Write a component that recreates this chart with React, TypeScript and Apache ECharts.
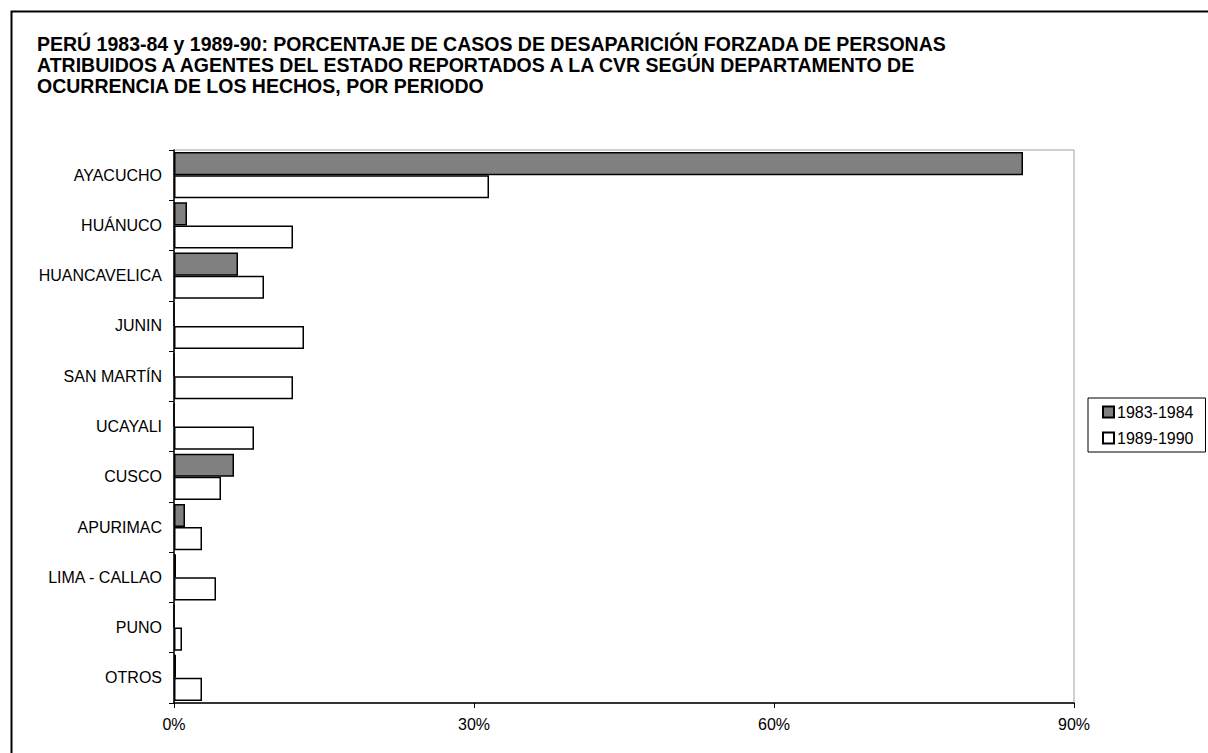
import React, { useEffect, useRef } from "react";
import * as echarts from "echarts";

const titleLines = [
  "PERÚ 1983-84 y 1989-90: PORCENTAJE DE CASOS DE DESAPARICIÓN FORZADA DE PERSONAS",
  "ATRIBUIDOS A AGENTES DEL ESTADO REPORTADOS A LA CVR SEGÚN DEPARTAMENTO DE",
  "OCURRENCIA DE LOS HECHOS, POR PERIODO",
];

const categories = [
  "AYACUCHO",
  "HUÁNUCO",
  "HUANCAVELICA",
  "JUNIN",
  "SAN MARTÍN",
  "UCAYALI",
  "CUSCO",
  "APURIMAC",
  "LIMA - CALLAO",
  "PUNO",
  "OTROS",
];

const seriesNames = ["1983-1984", "1989-1990"];
const period1 = [84.9, 1.3, 6.4, 0, 0, 0, 6.0, 1.1, 0.2, 0, 0.2];
const period2 = [31.5, 11.9, 9.0, 13.0, 11.9, 8.0, 4.7, 2.8, 4.2, 0.8, 2.8];

const FONT = "'Liberation Sans', Arial, Helvetica, sans-serif";

export default function App() {
  const ref = useRef<HTMLDivElement>(null);

  useEffect(() => {
    if (!ref.current) return;
    const chart = echarts.init(ref.current, undefined, { renderer: "svg" });
    chart.setOption({
      animation: false,
      backgroundColor: "#ffffff",
      textStyle: { fontFamily: FONT },
      title: {
        text: titleLines.join("\n"),
        left: 37,
        top: 33,
        padding: 0,
        textStyle: {
          fontFamily: FONT,
          fontSize: 19.5,
          fontWeight: "bold",
          color: "#000",
          lineHeight: 21,
        },
      },
      legend: {
        orient: "vertical",
        left: 1088,
        top: 398,
        width: 119,
        padding: [6, 12, 6, 14],
        itemGap: 10,
        itemWidth: 11,
        itemHeight: 11,
        borderColor: "#000",
        borderWidth: 1,
        icon: "rect",
        textStyle: { fontFamily: FONT, fontSize: 16, color: "#000", padding: [0, 0, 0, -2] },
        data: seriesNames,
      },
      grid: {
        left: 174,
        right: 134,
        top: 150,
        bottom: 50,
        show: true,
        borderColor: "#a0a0a0",
        borderWidth: 1,
        backgroundColor: "transparent",
      },
      xAxis: {
        type: "value",
        min: 0,
        max: 90,
        interval: 30,
        splitLine: { show: false },
        axisLine: { show: true, lineStyle: { color: "#000", width: 1.5 } },
        axisTick: { show: true, length: 5, lineStyle: { color: "#000" } },
        axisLabel: {
          formatter: "{value}%",
          fontFamily: FONT,
          fontSize: 16,
          color: "#000",
          margin: 13,
        },
      },
      yAxis: {
        type: "category",
        inverse: true,
        data: categories,
        axisLine: { show: true, lineStyle: { color: "#000", width: 1.5 } },
        axisTick: { show: true, length: 5, lineStyle: { color: "#000" } },
        axisLabel: {
          fontFamily: FONT,
          fontSize: 16,
          color: "#000",
          margin: 12,
        },
      },
      series: [
        {
          name: seriesNames[0],
          type: "bar",
          data: period1,
          barGap: "0%",
          barCategoryGap: "8%",
          itemStyle: { color: "#808080", borderColor: "#000", borderWidth: 1.5 },
        },
        {
          name: seriesNames[1],
          type: "bar",
          data: period2,
          barGap: "0%",
          barCategoryGap: "8%",
          itemStyle: { color: "#ffffff", borderColor: "#000", borderWidth: 1.5 },
        },
      ],
      graphic: [
        {
          type: "rect",
          left: 9,
          top: 9,
          shape: { x: 0, y: 0, width: 1300, height: 800 },
          style: { fill: "none", stroke: "#000", lineWidth: 2 },
          silent: true,
          z: 100,
        },
      ],
    });
    return () => chart.dispose();
  }, []);

  return (
    <div
      ref={ref}
      style={{ position: "fixed", left: 0, top: 0, width: 1208, height: 753 }}
    />
  );
}
